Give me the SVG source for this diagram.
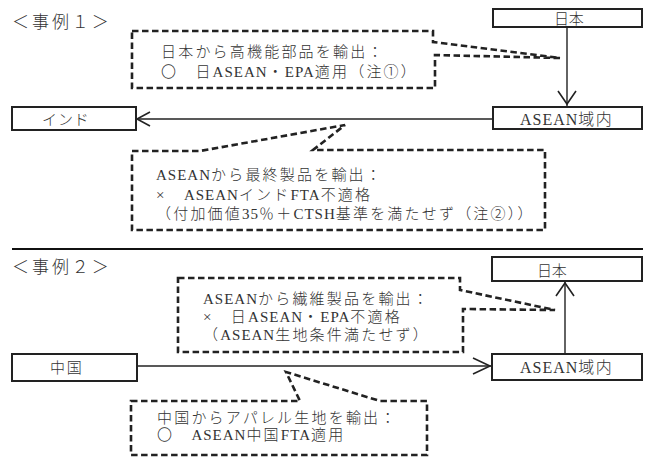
<svg xmlns="http://www.w3.org/2000/svg" width="649" height="457" viewBox="0 0 649 457">
<style>
text{font-family:"Liberation Serif","Noto Sans CJK JP",serif;fill:#333;font-size:15px;font-weight:300;letter-spacing:2.2px}
.l{font-family:"Liberation Serif","Times New Roman",serif;font-weight:400;letter-spacing:1px}
.nl{font-size:16px;letter-spacing:1.5px}
.h{font-size:17px}
.box{fill:#fff;stroke:#222;stroke-width:2}
.call{fill:none;stroke:#222;stroke-width:2.6;stroke-dasharray:6.5 3.5;stroke-linejoin:miter}
.ln{fill:none;stroke:#222;stroke-width:1.4}
.hd{fill:none;stroke:#222;stroke-width:1.6}
.sep{stroke:#111;stroke-width:2.2}
</style>
<rect width="649" height="457" fill="#fff"/>
<text class="h" x="12" y="28" textLength="99" lengthAdjust="spacing">＜事例１＞</text>
<text class="h" x="12" y="273" textLength="99" lengthAdjust="spacing">＜事例２＞</text>
<line class="sep" x1="12" y1="249" x2="643" y2="249"/>
<g id="connectors">
<line class="ln" x1="567" y1="27" x2="567" y2="106"/>
<polyline class="hd" points="558,91 567,104 576,91"/>
<line class="ln" x1="493" y1="119" x2="137" y2="119"/>
<polyline class="hd" points="150,112 137,119 150,126"/>
<line class="ln" x1="137" y1="366" x2="491" y2="366"/>
<polyline class="hd" points="473,358 490,366 473,374"/>
<line class="ln" x1="565" y1="354" x2="565" y2="282"/>
<polyline class="hd" points="556,296 565,283 574,296"/>
</g>
<g id="n_japan1"><rect class="box" x="493" y="9" width="149" height="18"/><text x="554" y="24" textLength="32" lengthAdjust="spacing">日本</text></g>
<g id="n_asean1"><rect class="box" x="493" y="107" width="149" height="22"/><text class="nl" x="520" y="125"><tspan class="l">ASEAN</tspan>域内</text></g>
<g id="n_india"><rect class="box" x="12" y="107" width="124" height="23"/><text x="42" y="125" textLength="49" lengthAdjust="spacing">インド</text></g>
<g id="n_japan2"><rect class="box" x="492" y="257" width="150" height="24"/><text x="537" y="276" textLength="32" lengthAdjust="spacing">日本</text></g>
<g id="n_asean2"><rect class="box" x="492" y="354" width="150" height="26"/><text class="nl" x="520" y="373"><tspan class="l">ASEAN</tspan>域内</text></g>
<g id="n_china"><rect class="box" x="12" y="354" width="125" height="27"/><text x="50" y="373" textLength="34" lengthAdjust="spacing">中国</text></g>
<g id="c1">
<polygon class="call" points="132,31 433,31 433,42 560,58 435,55 435,88 132,88"/>
<text x="161" y="57">日本から高機能部品を輸出：</text>
<text x="161" y="77">〇　日<tspan class="l">ASEAN</tspan>・<tspan class="l">EPA</tspan>適用（注①）</text>
</g>
<g id="c2">
<polygon class="call" points="132,151 200,151 345,125 313,150 545,150 545,230 132,230"/>
<text x="156" y="180"><tspan class="l">ASEAN</tspan>から最終製品を輸出：</text>
<text x="156" y="200">×　<tspan class="l">ASEAN</tspan>インド<tspan class="l">FTA</tspan>不適格</text>
<text x="156" y="219">（付加価値<tspan class="l">35</tspan>％＋<tspan class="l">CTSH</tspan>基準を満たせず（注②））</text>
</g>
<g id="c3">
<polygon class="call" points="178,278 460,278 460,290 555,310 463,309 463,352 178,352"/>
<text x="203" y="304"><tspan class="l">ASEAN</tspan>から繊維製品を輸出：</text>
<text x="203" y="322">×　日<tspan class="l">ASEAN</tspan>・<tspan class="l">EPA</tspan>不適格</text>
<text x="203" y="340">（<tspan class="l">ASEAN</tspan>生地条件満たせず）</text>
</g>
<g id="c4">
<polygon class="call" points="131,401 300,401 286,372 380,401 427,401 427,455 131,455"/>
<text x="157" y="423">中国からアパレル生地を輸出：</text>
<text x="157" y="440">〇　<tspan class="l">ASEAN</tspan>中国<tspan class="l">FTA</tspan>適用</text>
</g>
</svg>
